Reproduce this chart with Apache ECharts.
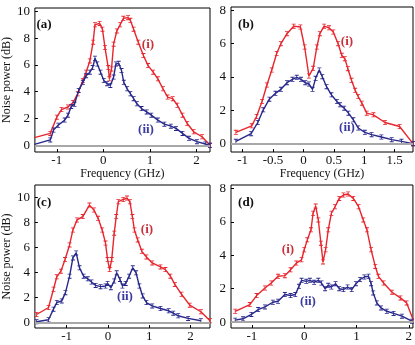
<!DOCTYPE html>
<html>
<head>
<meta charset="utf-8">
<script src="https://cdn.jsdelivr.net/npm/echarts@6/dist/echarts.min.js"></script>
<style>
  html, body { margin: 0; padding: 0; background: #fff; }
  #chart { width: 415px; height: 345px; }
</style>
</head>
<body>
<div id="chart"></div>
<script>
  // panel (a)
  const freqA1 = [-1.48, -1.14, -1.0, -0.9, -0.76, -0.65, -0.55, -0.44, -0.37, -0.29, -0.22, -0.18, -0.08, -0.02, 0.035, 0.105, 0.13, 0.175, 0.22, 0.29, 0.36, 0.43, 0.53, 0.58, 0.65, 0.75, 0.86, 0.96, 1.07, 1.17, 1.28, 1.38, 1.49, 1.59, 1.70, 1.80, 1.94, 2.12, 2.29]
  const powA1 = [0.57, 0.89, 2.1, 2.67, 2.86, 3.2, 3.85, 4.84, 5.46, 6.3, 7.7, 9.0, 9.1, 8.67, 7.3, 5.8, 4.96, 5.7, 7.55, 8.54, 9.0, 9.48, 9.53, 9.33, 8.67, 7.7, 6.7, 5.95, 5.46, 4.96, 4.22, 3.6, 3.48, 2.99, 2.25, 1.63, 1.01, 0.64, 0.0]
  const freqA2 = [-1.48, -1.14, -1.07, -0.97, -0.83, -0.76, -0.69, -0.62, -0.53, -0.44, -0.37, -0.29, -0.23, -0.18, -0.13, -0.06, 0.01, 0.08, 0.15, 0.22, 0.27, 0.33, 0.39, 0.44, 0.51, 0.58, 0.65, 0.72, 0.82, 0.93, 1.03, 1.17, 1.31, 1.45, 1.56, 1.70, 1.84, 2.01, 2.19, 2.29]
  const powA2 = [0.07, 0.4, 1.14, 1.5, 1.88, 2.25, 2.9, 3.06, 4.1, 4.7, 5.2, 5.46, 5.8, 6.5, 6.07, 5.46, 4.84, 4.6, 4.47, 5.09, 6.07, 6.12, 5.58, 4.7, 4.22, 3.85, 3.48, 3.1, 2.74, 2.49, 2.25, 1.88, 1.58, 1.43, 1.26, 0.89, 0.52, 0.27, 0.1, 0.0]

  // panel (b)
  const freqB1 = [-1.11, -0.85, -0.77, -0.68, -0.60, -0.52, -0.44, -0.37, -0.27, -0.16, -0.05, 0.02, 0.09, 0.16, 0.22, 0.27, 0.34, 0.42, 0.49, 0.57, 0.63, 0.68, 0.73, 0.79, 0.85, 0.90, 0.96, 1.04, 1.15, 1.34, 1.58, 1.80]
  const powB1 = [0.68, 1.07, 1.63, 2.53, 3.52, 4.42, 5.41, 6.0, 6.6, 7.05, 7.0, 5.8, 4.06, 4.52, 5.8, 6.6, 7.05, 6.95, 6.7, 6.0, 5.3, 5.1, 4.5, 3.8, 3.2, 2.83, 2.43, 1.83, 1.73, 1.27, 1.03, 0.0]
  const freqB2 = [-1.11, -0.86, -0.75, -0.66, -0.56, -0.46, -0.37, -0.27, -0.18, -0.11, -0.04, 0.03, 0.09, 0.15, 0.20, 0.26, 0.31, 0.38, 0.46, 0.55, 0.60, 0.67, 0.74, 0.82, 0.90, 1.01, 1.12, 1.28, 1.45, 1.61, 1.80]
  const powB2 = [0.14, 0.6, 1.27, 2.03, 2.67, 3.02, 3.26, 3.66, 3.86, 3.98, 3.86, 3.66, 3.58, 3.26, 3.92, 4.42, 4.02, 3.42, 2.93, 2.53, 2.33, 2.13, 1.83, 1.43, 0.94, 0.68, 0.54, 0.4, 0.24, 0.14, 0.0]

  // panel (c)
  const freqC1 = [-1.73, -1.44, -1.32, -1.24, -1.14, -1.04, -0.93, -0.85, -0.75, -0.61, -0.45, -0.34, -0.24, -0.14, -0.06, -0.01, 0.04, 0.09, 0.15, 0.20, 0.25, 0.37, 0.46, 0.53, 0.59, 0.64, 0.72, 0.82, 0.93, 1.07, 1.27, 1.39, 1.51, 1.62, 1.78, 1.98, 2.25, 2.47]
  const powC1 = [0.63, 1.19, 2.65, 3.65, 4.1, 5.03, 6.2, 7.4, 8.2, 8.47, 9.39, 9.0, 8.33, 7.4, 6.35, 5.03, 4.23, 5.03, 7.14, 8.47, 9.66, 9.84, 9.95, 9.66, 8.47, 7.4, 6.6, 5.69, 5.24, 4.76, 4.44, 4.23, 3.7, 3.04, 2.25, 1.38, 0.85, 0.13]
  const freqC2 = [-1.73, -1.44, -1.32, -1.24, -1.12, -1.03, -0.93, -0.85, -0.77, -0.69, -0.59, -0.49, -0.40, -0.30, -0.18, -0.06, -0.01, 0.07, 0.15, 0.21, 0.29, 0.35, 0.43, 0.51, 0.60, 0.68, 0.76, 0.84, 0.93, 1.07, 1.27, 1.47, 1.58, 1.70, 1.94, 2.25]
  const powC2 = [0.05, 0.21, 1.06, 1.59, 1.72, 2.38, 3.7, 5.16, 5.56, 4.37, 3.7, 3.49, 3.23, 2.96, 2.86, 2.91, 3.12, 2.78, 3.31, 3.97, 3.44, 2.91, 3.12, 3.7, 4.37, 3.97, 2.91, 2.12, 1.59, 1.32, 1.11, 0.93, 0.74, 0.53, 0.32, 0.13]

  // panel (d)
  const freqD1 = [-1.32, -1.04, -0.91, -0.75, -0.63, -0.50, -0.37, -0.26, -0.15, -0.05, 0.0, 0.06, 0.13, 0.17, 0.22, 0.27, 0.32, 0.36, 0.41, 0.46, 0.52, 0.59, 0.67, 0.75, 0.84, 0.94, 1.04, 1.13, 1.20, 1.28, 1.36, 1.42, 1.52, 1.68, 1.84, 1.96, 2.09]
  const powD1 = [0.65, 1.05, 1.59, 2.04, 2.34, 2.74, 2.78, 3.13, 3.53, 3.73, 4.33, 4.92, 5.52, 6.51, 6.94, 6.11, 4.72, 3.6, 4.33, 5.52, 6.51, 6.9, 7.4, 7.6, 7.66, 7.4, 6.9, 6.11, 5.52, 4.33, 3.33, 2.74, 2.34, 1.79, 1.45, 1.15, 0.1]
  const freqD2 = [-1.32, -1.17, -1.01, -0.88, -0.75, -0.60, -0.50, -0.37, -0.26, -0.17, -0.10, -0.05, 0.04, 0.11, 0.19, 0.27, 0.33, 0.40, 0.46, 0.52, 0.60, 0.67, 0.75, 0.83, 0.91, 0.99, 1.07, 1.15, 1.23, 1.28, 1.32, 1.39, 1.47, 1.58, 1.71, 1.87, 2.06]
  const powD2 = [0.12, 0.2, 0.46, 0.75, 0.91, 1.19, 1.25, 1.65, 1.59, 1.65, 2.14, 2.5, 2.44, 2.5, 2.38, 2.5, 2.34, 2.0, 2.2, 2.1, 2.3, 2.0, 1.95, 2.1, 1.95, 2.3, 2.55, 2.7, 2.75, 2.3, 1.75, 1.15, 0.85, 0.65, 0.52, 0.36, 0.06]

  // tick values
  const xTicksA = [-1, 0, 1, 2]
  const yTicksA = [0, 2, 4, 6, 8, 10]
  const xTicksB = [-1, -0.5, 0, 0.5, 1, 1.5]
  const yTicksB = [0, 2, 4, 6, 8]
  const xTicksC = [-1, 0, 1, 2]
  const yTicksC = [0, 2, 4, 6, 8, 10]
  const xTicksD = [-1, 0, 1, 2]
  const yTicksD = [0, 2, 4, 6, 8]

  const RED = '#e8262e'
  const BLUE = '#28288c'
  const FONT = '"Liberation Serif", "DejaVu Serif", serif'
  const CAP = 'path://M0,0h5v1h-2v4h2v1h-5v-1h2v-4h-2z'

  const zip = (xs, ys) => xs.map((x, i) => [x, ys[i]])

  const grids = [
    { left: 31, top: 8, width: 179, height: 144 },
    { left: 231, top: 7, width: 182, height: 145 },
    { left: 31, top: 185, width: 179, height: 143 },
    { left: 231, top: 185, width: 182, height: 143 }
  ].map(g => ({ ...g, show: true, borderColor: '#000', borderWidth: 1, backgroundColor: 'transparent' }))

  const xRanges = [[-1.47, 2.29], [-1.19, 1.8], [-1.77, 2.47], [-1.4, 2.08]]
  const yRanges = [[-0.5, 10.25], [-0.5, 8.2], [-0.45, 11.0], [-0.35, 8.2]]
  const xTicks = [xTicksA, xTicksB, xTicksC, xTicksD]
  const yTicks = [yTicksA, yTicksB, yTicksC, yTicksD]

  const xAxis = xTicks.map((ticks, i) => ({
    type: 'value',
    gridIndex: i,
    min: xRanges[i][0],
    max: xRanges[i][1],
    name: i < 2 ? 'Frequency (GHz)' : '',
    nameLocation: 'middle',
    nameGap: 14,
    nameTextStyle: { fontFamily: FONT, fontSize: 12, color: '#111' },
    axisLine: { show: false, onZero: false },
    splitLine: { show: false },
    axisTick: { inside: true, length: 3, customValues: ticks, lineStyle: { color: '#000' } },
    axisLabel: {
      customValues: ticks, margin: 2, fontFamily: FONT, fontSize: 13, color: '#111',
      formatter: v => (v < 0 ? '-' + Math.abs(v) : '' + v)
    }
  }))

  const yAxis = yTicks.map((ticks, i) => ({
    type: 'value',
    gridIndex: i,
    min: yRanges[i][0],
    max: yRanges[i][1],
    name: i % 2 === 0 ? 'Noise power (dB)' : '',
    nameLocation: 'middle',
    nameGap: 16,
    nameTextStyle: { fontFamily: FONT, fontSize: 12, color: '#111' },
    axisLine: { show: false, onZero: false },
    splitLine: { show: false },
    axisTick: { inside: true, length: 3, customValues: ticks, lineStyle: { color: '#000' } },
    axisLabel: { customValues: ticks, margin: 5, fontFamily: FONT, fontSize: 13, color: '#111' }
  }))

  const makeLine = (i, data, color, zero) => ({
    type: 'line',
    xAxisIndex: i,
    yAxisIndex: i,
    data: data,
    symbol: CAP,
    symbolSize: [4, 5],
    showAllSymbol: true,
    itemStyle: { color: color },
    lineStyle: { color: color, width: 1.4 },
    animation: false,
    markLine: zero ? {
      silent: true,
      symbol: 'none',
      label: { show: false },
      lineStyle: { color: '#a8a8a8', width: 2, type: 'solid' },
      data: [{ yAxis: 0 }]
    } : undefined,
    z: color === RED ? 3 : 4
  })

  const series = [
    makeLine(0, zip(freqA1, powA1), RED, true),
    makeLine(0, zip(freqA2, powA2), BLUE, false),
    makeLine(1, zip(freqB1, powB1), RED, true),
    makeLine(1, zip(freqB2, powB2), BLUE, false),
    makeLine(2, zip(freqC1, powC1), RED, true),
    makeLine(2, zip(freqC2, powC2), BLUE, false),
    makeLine(3, zip(freqD1, powD1), RED, true),
    makeLine(3, zip(freqD2, powD2), BLUE, false)
  ]

  const txt = (x, y, s, color) => ({
    type: 'text',
    x: x,
    y: y,
    style: {
      text: s, fill: color, font: 'bold 13px ' + FONT,
      textAlign: 'center', textVerticalAlign: 'middle'
    },
    z: 10
  })

  const graphic = [
    txt(44, 25, '(a)', '#111'),
    txt(246, 25, '(b)', '#111'),
    txt(44, 203, '(c)', '#111'),
    txt(246, 203, '(d)', '#111'),
    txt(148, 45, '(i)', '#c8303a'),
    txt(146, 130, '(ii)', '#3a3aa0'),
    txt(347, 42, '(i)', '#c8303a'),
    txt(347, 128, '(ii)', '#3a3aa0'),
    txt(147, 230, '(i)', '#c8303a'),
    txt(125, 297, '(ii)', '#3a3aa0'),
    txt(288, 250, '(i)', '#c8303a'),
    txt(308, 302, '(ii)', '#3a3aa0')
  ]

  const chart = echarts.init(document.getElementById('chart'))
  chart.setOption({
    backgroundColor: '#fff',
    animation: false,
    grid: grids,
    xAxis: xAxis,
    yAxis: yAxis,
    series: series,
    graphic: graphic
  })
</script>
</body>
</html>
